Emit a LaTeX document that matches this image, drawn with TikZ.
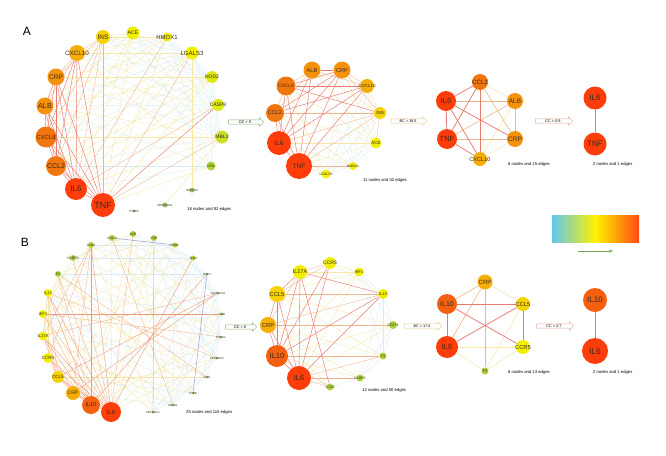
\documentclass[tikz,border=0pt]{standalone}
\usepackage{fontspec}
\setmainfont{Liberation Sans}
\usetikzlibrary{shapes.arrows,arrows.meta}
\pgfdeclarelayer{bg}
\pgfdeclarelayer{back}
\pgfsetlayers{back,bg,main}
\newcommand\glab[1]{\makebox[0pt]{\raisebox{-0.36em}[0pt][0pt]{#1}}}
\definecolor{cR}{HTML}{FF3D0A}
\definecolor{cOR}{HTML}{F4600F}
\definecolor{cO}{HTML}{F2760F}
\definecolor{cO2}{HTML}{F5920C}
\definecolor{cYO}{HTML}{F5AE08}
\definecolor{cY1}{HTML}{F5D200}
\definecolor{cY}{HTML}{F2EE00}
\definecolor{cYG}{HTML}{DDEA12}
\definecolor{cYG2}{HTML}{C9DF28}
\definecolor{cG}{HTML}{ACD23A}
\definecolor{cG2}{HTML}{93C36A}
\definecolor{lR}{HTML}{E87A70}
\definecolor{lR2}{HTML}{EE9C7E}
\definecolor{lO}{HTML}{F0B48A}
\definecolor{lY}{HTML}{F5E8A8}
\definecolor{lB}{HTML}{D6EBF3}
\definecolor{lP}{HTML}{9898CC}
\definecolor{tx}{HTML}{3A2A1A}
\definecolor{arG}{HTML}{8CB07A}
\definecolor{arY}{HTML}{E6C987}
\definecolor{arP}{HTML}{E3A99A}
\definecolor{lgA}{HTML}{62C6EE}
\definecolor{lgB}{HTML}{C4E24A}
\definecolor{lgC}{HTML}{FFF200}
\definecolor{lgD}{HTML}{FFA010}
\definecolor{lgE}{HTML}{FF4A12}
\definecolor{lgArr}{HTML}{6AAA50}
\begin{document}
\begin{tikzpicture}[x=1pt,y=-1pt,
  fs/.style={font=\fontsize{#1}{#1}\selectfont},
  gn/.style={circle,inner sep=0pt,text=tx},
  eR/.style={draw=lR,line width=0.45pt},
  eR2/.style={draw=lR2,line width=0.4pt},
  eO/.style={draw=lO,line width=0.35pt},
  eY/.style={draw=lY,line width=0.35pt},
  eB/.style={draw=lB,line width=0.3pt},
  eP/.style={draw=lP,line width=0.45pt},
  eRt/.style={draw=lR,line width=0.75pt},
  eOt/.style={draw=lO,line width=0.6pt},
  eYt/.style={draw=lY,line width=0.5pt},
  arw/.style={single arrow, draw=#1, fill=white, line width=0.45pt, minimum height=36pt, minimum width=8pt, single arrow head extend=2pt, inner sep=0.6pt, fs=3.8, text=black},
  ntx/.style={fs=4.2, anchor=west, inner sep=0pt, text=black},
  lab/.style={fs=12, inner sep=0pt, text=black}
]
\useasboundingbox (0,0) rectangle (666,455);
\begin{pgfonlayer}{back}
\fill[white] (0,0) rectangle (666,455);
\end{pgfonlayer}

\node[lab] (LA) at (27,31) {A};
\node[lab] (LB) at (25,242) {B};

% ---------------- A1 ----------------
\node[gn,fill=cY1,minimum size=14pt,fs=6.5] (aINS) at (103,37) {\glab{INS}};
\node[gn,fill=cY,minimum size=13pt,fs=5.3] (aACE) at (133,33) {\glab{ACE}};
\node[gn,fill=cY,minimum size=9pt,fs=6] (aHMOX1) at (167,37) {\glab{HMOX1}};
\node[gn,fill=cY,minimum size=13pt,fs=6] (aLGALS3) at (192,53) {\glab{LGALS3}};
\node[gn,fill=cYG,minimum size=12pt,fs=5] (aNOD2) at (212,77) {\glab{NOD2}};
\node[gn,fill=cYG,minimum size=12pt,fs=5] (aCASP8) at (218,105) {\glab{CASP8}};
\node[gn,fill=cYG2,minimum size=13pt,fs=5] (aMBL2) at (222,137) {\glab{MBL2}};
\node[gn,fill=cG,minimum size=9pt,fs=3.5] (aSFLT) at (211,166) {\glab{sFlt1}};
\node[gn,fill=cG2,minimum size=5pt,fs=3] (aHAVCR2) at (192,190) {\glab{HAVCR2}};
\node[gn,fill=cG2,minimum size=5pt,fs=3] (aSERP) at (165,205) {\glab{SERPING1}};
\node[gn,fill=cG2,minimum size=3pt,fs=3] (aPTBP) at (134,211) {\glab{PTBP1}};
\node[gn,fill=cR,minimum size=24pt,fs=9] (aTNF) at (103,205) {\glab{TNF}};
\node[gn,fill=cR,minimum size=22pt,fs=8] (aIL6) at (76,189) {\glab{IL6}};
\node[gn,fill=cO,minimum size=20pt,fs=7] (aCCL2) at (56,166) {\glab{CCL2}};
\node[gn,fill=cO,minimum size=21pt,fs=6] (aCXCL8) at (46,137) {\glab{CXCL8}};
\node[gn,fill=cO2,minimum size=17pt,fs=7.3] (aALB) at (45,106) {\glab{ALB}};
\node[gn,fill=cO2,minimum size=17pt,fs=6.6] (aCRP) at (56,77) {\glab{CRP}};
\node[gn,fill=cYO,minimum size=16pt,fs=6.3] (aCXCL10) at (77,53) {\glab{CXCL10}};
\node[ntx] (tA1) at (187,209) {18 nodes and 92 edges};

% ---------------- A2 ----------------
\node[gn,fill=cO2,minimum size=17pt,fs=5.6] (cALB) at (312,70) {\glab{ALB}};
\node[gn,fill=cO2,minimum size=17pt,fs=5.6] (cCRP) at (342,70) {\glab{CRP}};
\node[gn,fill=cO,minimum size=19pt,fs=4.8] (cCXCL8) at (286,86) {\glab{CXCL8}};
\node[gn,fill=cYO,minimum size=14pt,fs=4.5] (cCXCL10) at (367,86) {\glab{CXCL10}};
\node[gn,fill=cO,minimum size=18pt,fs=5.5] (cCCL2) at (275,113) {\glab{CCL2}};
\node[gn,fill=cY1,minimum size=12pt,fs=4.5] (cINS) at (380,113) {\glab{INS}};
\node[gn,fill=cR,minimum size=24pt,fs=6.5] (cIL6) at (279,143) {\glab{IL6}};
\node[gn,fill=cY,minimum size=11pt,fs=4.5] (cACE) at (376,143) {\glab{ACE}};
\node[gn,fill=cR,minimum size=26pt,fs=6.5] (cTNF) at (299,166) {\glab{TNF}};
\node[gn,fill=cY,minimum size=8pt,fs=3.4] (cHMOX1) at (353,166) {\glab{HMOX1}};
\node[gn,fill=cY,minimum size=9pt,fs=3.4] (cLGALS3) at (326,174) {\glab{LGALS3}};
\node[ntx] (tA2) at (363,180) {11 nodes and 52 edges};

% ---------------- A3 ----------------
\node[gn,fill=cO,minimum size=16pt,fs=6.2] (dCCL2) at (480,82) {\glab{CCL2}};
\node[gn,fill=cR,minimum size=20pt,fs=7.5] (dIL6) at (446,101) {\glab{IL6}};
\node[gn,fill=cO2,minimum size=16pt,fs=6.5] (dALB) at (515,101) {\glab{ALB}};
\node[gn,fill=cR,minimum size=20pt,fs=7.5] (dTNF) at (447,139) {\glab{TNF}};
\node[gn,fill=cO2,minimum size=16pt,fs=6.5] (dCRP) at (515,139) {\glab{CRP}};
\node[gn,fill=cYO,minimum size=14pt,fs=5.6] (dCXCL10) at (480,159) {\glab{CXCL10}};
\node[ntx] (tA3) at (508,164) {6 nodes and 15 edges};

% ---------------- A4 ----------------
\node[gn,fill=cR,minimum size=23pt,fs=8] (eIL6) at (595,98) {\glab{IL6}};
\node[gn,fill=cR,minimum size=23pt,fs=8] (eTNF) at (595,144) {\glab{TNF}};
\node[ntx] (tA4) at (593,164) {2 nodes and 1 edges};

% arrows A
\node[arw=arG,minimum height=35pt] (arA1) at (245,122) {DC > 9};
\node[arw=arY] (arA2) at (408,121) {BC > 19.5};
\node[arw=arP,minimum height=37pt] (arA3) at (553,121) {CC > 0.9};

% ---------------- B1 ----------------
\node[gn,fill=cG,minimum size=6pt,fs=3.2] (fCD274) at (112,238) {\glab{CD274}};
\node[gn,fill=cG,minimum size=6pt,fs=3.2] (fLCN2) at (91,245) {\glab{LCN2}};
\node[gn,fill=cG,minimum size=6pt,fs=3.5] (fNLRP3) at (73,258) {\glab{NLRP3}};
\node[gn,fill=cG,minimum size=6pt,fs=3.5] (fF3) at (58,274) {\glab{F3}};
\node[gn,fill=cY,minimum size=8pt,fs=3.8] (fIL13) at (48,293) {\glab{IL13}};
\node[gn,fill=cY,minimum size=8pt,fs=3.8] (fIRF1) at (43,314) {\glab{IRF1}};
\node[gn,fill=cY,minimum size=9pt,fs=4.2] (fIL17A) at (43,336) {\glab{IL17A}};
\node[gn,fill=cY,minimum size=10pt,fs=4.5] (fCCR5) at (48,358) {\glab{CCR5}};
\node[gn,fill=cY1,minimum size=12pt,fs=4.5] (fCCL5) at (58,377) {\glab{CCL5}};
\node[gn,fill=cYO,minimum size=14pt,fs=5] (fCRP) at (73,393) {\glab{CRP}};
\node[gn,fill=cOR,minimum size=18pt,fs=5.5] (fIL10) at (91,405) {\glab{IL10}};
\node[gn,fill=cR,minimum size=20pt,fs=6] (fIL6) at (111,412) {\glab{IL6}};
\node[gn,fill=cG,minimum size=6pt,fs=3.2] (fR1) at (133,234) {\glab{ACE}};
\node[gn,fill=cG,minimum size=6pt,fs=3.2] (fR2) at (154,238) {\glab{VWF}};
\node[gn,fill=cG,minimum size=5pt,fs=3] (fR3) at (175,245) {\glab{PROC}};
\node[gn,fill=cG,minimum size=5pt,fs=3] (fR4) at (193,258) {\glab{TLR4}};
\node[gn,fill=cG2,minimum size=3pt,fs=2.8] (fR5) at (207,274) {\glab{TIMP1}};
\node[gn,fill=cG2,minimum size=3pt,fs=2.8] (fR6) at (218,293) {\glab{TNFRSF1A}};
\node[gn,fill=cG2,minimum size=3pt,fs=2.8] (fR7) at (222,314) {\glab{HBB}};
\node[gn,fill=cG2,minimum size=3pt,fs=2.8] (fR8) at (221,337) {\glab{PPARG}};
\node[gn,fill=cG2,minimum size=3pt,fs=2.8] (fR9) at (217,358) {\glab{SERPINE1}};
\node[gn,fill=cG2,minimum size=3pt,fs=2.8] (fR10) at (207,377) {\glab{FPR1}};
\node[gn,fill=cG2,minimum size=3pt,fs=2.8] (fR11) at (193,393) {\glab{CYBB}};
\node[gn,fill=cG2,minimum size=3pt,fs=2.8] (fR12) at (173,405) {\glab{ABCB1}};
\node[gn,fill=cG2,minimum size=3pt,fs=2.8] (fR13) at (153,412) {\glab{SERPINC1}};
\node[ntx] (tB1) at (186,412) {25 nodes and 115 edges};

% ---------------- B2 ----------------
\node[gn,fill=cY,minimum size=12pt,fs=5] (gCCR5) at (330,263) {\glab{CCR5}};
\node[gn,fill=cY,minimum size=14pt,fs=5.5] (gIL17A) at (300,272) {\glab{IL17A}};
\node[gn,fill=cY,minimum size=9pt,fs=4] (gIRF1) at (359,272) {\glab{IRF1}};
\node[gn,fill=cY1,minimum size=16pt,fs=5.8] (gCCL5) at (277,294) {\glab{CCL5}};
\node[gn,fill=cY,minimum size=10pt,fs=4] (gIL13) at (383,294) {\glab{IL13}};
\node[gn,fill=cYO,minimum size=16pt,fs=5.8] (gCRP) at (268,325) {\glab{CRP}};
\node[gn,fill=cG,minimum size=8pt,fs=3.5] (gCD274) at (393,325) {\glab{CD274}};
\node[gn,fill=cOR,minimum size=22pt,fs=7.5] (gIL10) at (277,356) {\glab{IL10}};
\node[gn,fill=cG,minimum size=7pt,fs=3.5] (gF3) at (383,356) {\glab{F3}};
\node[gn,fill=cR,minimum size=24pt,fs=7.5] (gIL6) at (299,378) {\glab{IL6}};
\node[gn,fill=cG,minimum size=7pt,fs=3.5] (gNLRP3) at (360,378) {\glab{NLRP3}};
\node[gn,fill=cG,minimum size=7pt,fs=3.5] (gLCN2) at (330,387) {\glab{LCN2}};
\node[ntx] (tB2) at (362,390) {12 nodes and 50 edges};

% ---------------- B3 ----------------
\node[gn,fill=cYO,minimum size=15pt,fs=6] (hCRP) at (485,282) {\glab{CRP}};
\node[gn,fill=cOR,minimum size=20pt,fs=7] (hIL10) at (447,304) {\glab{IL10}};
\node[gn,fill=cY1,minimum size=14pt,fs=5.8] (hCCL5) at (523,304) {\glab{CCL5}};
\node[gn,fill=cR,minimum size=22pt,fs=7.5] (hIL6) at (447,347) {\glab{IL6}};
\node[gn,fill=cY,minimum size=14pt,fs=5.8] (hCCR5) at (523,347) {\glab{CCR5}};
\node[gn,fill=cG,minimum size=7pt,fs=4] (hF3) at (485,371) {\glab{F3}};
\node[ntx] (tB3) at (508,372) {6 nodes and 13 edges};

% ---------------- B4 ----------------
\node[gn,fill=cOR,minimum size=24pt,fs=8] (kIL10) at (595,300) {\glab{IL10}};
\node[gn,fill=cR,minimum size=26pt,fs=8.5] (kIL6) at (595,351) {\glab{IL6}};
\node[ntx] (tB4) at (593,372) {2 nodes and 1 edges};

% arrows B
\node[arw=arG,minimum height=31pt] (arB1) at (240,327) {DC > 8};
\node[arw=arY,minimum height=38pt] (arB2) at (422,326) {BC > 17.6};
\node[arw=arP,minimum height=37pt] (arB3) at (554,326) {CC > 0.7};

% legend
\shade[left color=lgA,middle color=lgB,right color=lgC] (552,215) rectangle (596,242);
\shade[left color=lgC,middle color=lgD,right color=lgE] (595.6,215) rectangle (639,242);
\coordinate (lgS) at (578,251);
\coordinate (lgT) at (613,251);
\draw[lgArr,line width=0.6pt,-{Stealth[length=4pt,width=3pt]}] (lgS) -- (lgT);

% ---------------- edges ----------------
\begin{pgfonlayer}{bg}
% A1
\foreach \u/\v in {aINS/aLGALS3,aINS/aNOD2,aINS/aMBL2,aINS/aCASP8,aACE/aNOD2,aACE/aMBL2,aACE/aCASP8,aACE/aLGALS3,aACE/aSFLT,aHMOX1/aCASP8,aHMOX1/aNOD2,aHMOX1/aMBL2,aHMOX1/aSFLT,aLGALS3/aCASP8,aLGALS3/aMBL2,aNOD2/aMBL2,aNOD2/aSFLT,aCASP8/aSFLT,aCXCL8/aNOD2,aALB/aCASP8,aCRP/aMBL2,aCCL2/aMBL2,aCXCL8/aCASP8,aALB/aLGALS3,aCRP/aHMOX1,aCXCL10/aNOD2,aCXCL10/aCASP8,aCXCL10/aMBL2,aIL6/aSFLT,aCCL2/aSFLT,aALB/aSFLT}
  \draw[eB] (\u) -- (\v);
\foreach \u/\v in {aTNF/aACE,aIL6/aACE,aTNF/aHMOX1,aTNF/aNOD2,aIL6/aNOD2,aIL6/aLGALS3,aCCL2/aACE,aCXCL8/aHMOX1,aALB/aACE,aCRP/aNOD2,aCXCL10/aSFLT,aCXCL10/aLGALS3,aCCL2/aNOD2,aCXCL8/aMBL2,aALB/aMBL2,aCRP/aCASP8,aLGALS3/aHAVCR2,aMBL2/aSERP,aINS/aACE,aINS/aHMOX1,aTNF/aSFLT,aIL6/aMBL2,aCCL2/aCASP8,aCXCL8/aLGALS3,aALB/aHMOX1,aCRP/aLGALS3,aCXCL10/aHMOX1,aCXCL10/aACE,aCCL2/aLGALS3,aALB/aNOD2}
  \draw[eY] (\u) -- (\v);
\foreach \u/\v in {aTNF/aINS,aIL6/aINS,aCCL2/aINS,aCXCL8/aINS,aALB/aCXCL10,aCRP/aCXCL10,aIL6/aHMOX1,aTNF/aMBL2,aCRP/aINS,aCXCL10/aINS,aTNF/aLGALS3,aIL6/aCASP8}
  \draw[eO] (\u) -- (\v);
\foreach \u/\v in {aTNF/aIL6,aTNF/aCCL2,aTNF/aCXCL8,aTNF/aALB,aTNF/aCRP,aTNF/aCXCL10,aIL6/aCCL2,aIL6/aCXCL8,aIL6/aALB,aIL6/aCRP,aIL6/aCXCL10,aCCL2/aCXCL8,aCCL2/aCXCL10,aCXCL8/aCXCL10,aCCL2/aCRP,aCXCL8/aCRP,aALB/aCRP,aTNF/aCASP8,aCXCL8/aALB,aCCL2/aALB}
  \draw[eR] (\u) -- (\v);
% A2
\foreach \u/\v in {cINS/cHMOX1,cINS/cLGALS3,cACE/cHMOX1,cACE/cLGALS3,cHMOX1/cLGALS3,cCXCL10/cHMOX1,cCRP/cHMOX1,cALB/cHMOX1,cCRP/cLGALS3,cCXCL10/cLGALS3}
  \draw[eB] (\u) -- (\v);
\foreach \u/\v in {cTNF/cACE,cIL6/cACE,cIL6/cHMOX1,cTNF/cLGALS3,cIL6/cLGALS3,cCCL2/cACE,cCXCL8/cACE,cALB/cACE,cCRP/cACE,cCXCL10/cINS,cCXCL10/cACE,cCCL2/cHMOX1,cCXCL8/cLGALS3,cALB/cINS}
  \draw[eY] (\u) -- (\v);
\foreach \u/\v in {cCCL2/cCXCL8,cCCL2/cALB,cCXCL8/cALB,cALB/cCXCL10,cCRP/cCXCL10,cTNF/cINS,cIL6/cINS,cCCL2/cINS,cCRP/cINS,cINS/cACE,cTNF/cHMOX1}
  \draw[eO] (\u) -- (\v);
\foreach \u/\v in {cTNF/cIL6,cTNF/cCCL2,cTNF/cCXCL8,cTNF/cALB,cTNF/cCRP,cTNF/cCXCL10,cIL6/cCCL2,cIL6/cCXCL8,cIL6/cALB,cIL6/cCRP,cIL6/cCXCL10,cCCL2/cCXCL10,cCXCL8/cCRP,cCXCL8/cCXCL10,cCCL2/cCRP,cALB/cCRP,cCXCL8/cINS}
  \draw[eR] (\u) -- (\v);
% A3
\foreach \u/\v in {dCCL2/dALB,dALB/dCXCL10,dCRP/dCXCL10}
  \draw[eYt] (\u) -- (\v);
\foreach \u/\v in {dIL6/dALB,dTNF/dCRP,dCCL2/dCRP,dALB/dCRP,dTNF/dALB}
  \draw[eOt] (\u) -- (\v);
\foreach \u/\v in {dIL6/dTNF,dIL6/dCCL2,dTNF/dCCL2,dTNF/dCXCL10,dIL6/dCRP,dCCL2/dCXCL10,dIL6/dCXCL10}
  \draw[eRt] (\u) -- (\v);
% A4
\draw[eRt] (eIL6) -- (eTNF);
% B1
\foreach \u/\v in {fR1/fR4,fR2/fR5,fR3/fR6,fR4/fR7,fR5/fR8,fR6/fR9,fR7/fR10,fR8/fR11,fR9/fR12,fR10/fR13,fR1/fR6,fR2/fR8,fR3/fR9,fR4/fR10,fR5/fR12,fR6/fR12,fR7/fR13,fR1/fR9,fR2/fR11,fR3/fR12,fCD274/fR5,fLCN2/fR6,fNLRP3/fR7,fF3/fR8,fIL13/fR7,fIRF1/fR10,fIL17A/fR9,fCCR5/fR12,fCCL5/fR11,fCRP/fR12,fF3/fR5,fNLRP3/fR4,fLCN2/fR3,fCD274/fR9,fIL13/fR12,fIRF1/fR11,fR8/fR13,fR4/fR13}
  \draw[eB] (\u) -- (\v);
\foreach \u/\v in {fIL6/fR2,fIL10/fR1,fIL6/fR3,fIL10/fR4,fCRP/fR2,fCCL5/fR3,fCCR5/fR7,fIL17A/fR5,fIRF1/fR4,fIL13/fR3,fF3/fR2,fNLRP3/fR1,fLCN2/fR13,fCD274/fR11,fR1/fR12,fIL6/fR7,fIL6/fR9,fIL10/fR8,fCRP/fR9,fCCL5/fR10,fCCR5/fR11,fIL17A/fR12,fIRF1/fR13,fIL13/fR10,fF3/fR11,fNLRP3/fR9,fLCN2/fR8,fCD274/fR7,fIL6/fCD274,fIL10/fNLRP3,fCRP/fF3,fCCL5/fIRF1,fCCR5/fIL13,fIL17A/fF3,fIRF1/fNLRP3,fIL13/fLCN2}
  \draw[eY] (\u) -- (\v);
\foreach \u/\v in {fIL17A/fR6,fIRF1/fR8,fIL6/fR1,fCCR5/fLCN2,fCRP/fLCN2,fIL6/fF3,fIL10/fF3,fIL13/fIL17A,fIL6/fIRF1,fIL10/fIRF1,fCRP/fIL17A,fCCL5/fCCR5,fIL10/fCCR5,fCRP/fCCL5,fCD274/fR12,fNLRP3/fIL6,fIL13/fR9,fF3/fR10,fCCL5/fIL13,fIL17A/fLCN2}
  \draw[eO] (\u) -- (\v);
\foreach \u/\v in {fIL6/fIL10,fIL6/fCRP,fIL6/fCCL5,fIL6/fIL17A,fIL6/fIL13,fIL6/fLCN2,fIL10/fCRP,fIL10/fCCL5,fIL10/fIL17A,fIL10/fIL13,fIL10/fLCN2,fCCL5/fIL17A,fIL6/fCCR5,fIRF1/fR7,fIL6/fR4,fR2/fR13,fCRP/fR6,fIL10/fR5,fCCL5/fR6}
  \draw[eR2] (\u) -- (\v);
\foreach \u/\v in {fR5/fR11,fCD274/fR3}
  \draw[eP] (\u) -- (\v);
% B2
\foreach \u/\v in {gIRF1/gIL13,gIL13/gCD274,gCD274/gF3,gF3/gNLRP3,gNLRP3/gLCN2,gIRF1/gCD274,gIL13/gF3,gIL13/gNLRP3,gCD274/gNLRP3,gIRF1/gF3}
  \draw[eB] (\u) -- (\v);
\foreach \u/\v in {gIL6/gIRF1,gIL10/gIRF1,gIL6/gCD274,gIL10/gCD274,gCCL5/gIRF1,gCCR5/gIL13,gCRP/gF3,gCCL5/gF3,gIL17A/gIRF1,gCCR5/gIRF1,gCRP/gNLRP3,gCCL5/gCD274,gIL10/gNLRP3,gCRP/gLCN2}
  \draw[eY] (\u) -- (\v);
\foreach \u/\v in {gCCL5/gIL13,gCCR5/gIL17A,gCCL5/gCCR5,gCRP/gIL17A,gIL6/gLCN2,gIL10/gLCN2,gIL6/gNLRP3,gCRP/gCD274,gIL6/gF3,gIL10/gF3,gCRP/gIL13}
  \draw[eO] (\u) -- (\v);
\foreach \u/\v in {gIL6/gIL10,gIL6/gCCL5,gIL6/gIL17A,gIL6/gCCR5,gIL6/gIL13,gIL6/gCRP,gIL10/gCCL5,gIL10/gIL17A,gIL10/gCCR5,gIL10/gIL13,gIL10/gCRP,gCCL5/gIL17A,gIL17A/gLCN2,gIL17A/gIL13,gCCL5/gCRP}
  \draw[eR] (\u) -- (\v);
% B3
\foreach \u/\v in {hCRP/hCCL5,hIL6/hCCR5,hIL6/hF3,hF3/hCCR5,hF3/hCCL5}
  \draw[eYt] (\u) -- (\v);
\foreach \u/\v in {hCRP/hIL6,hCRP/hIL10,hCRP/hF3}
  \draw[eOt] (\u) -- (\v);
\foreach \u/\v in {hIL10/hCCL5,hIL10/hIL6,hIL10/hCCR5,hIL6/hCCL5,hCCL5/hCCR5}
  \draw[eRt] (\u) -- (\v);
% B4
\draw[eRt] (kIL10) -- (kIL6);
\end{pgfonlayer}
\end{tikzpicture}
\end{document}
